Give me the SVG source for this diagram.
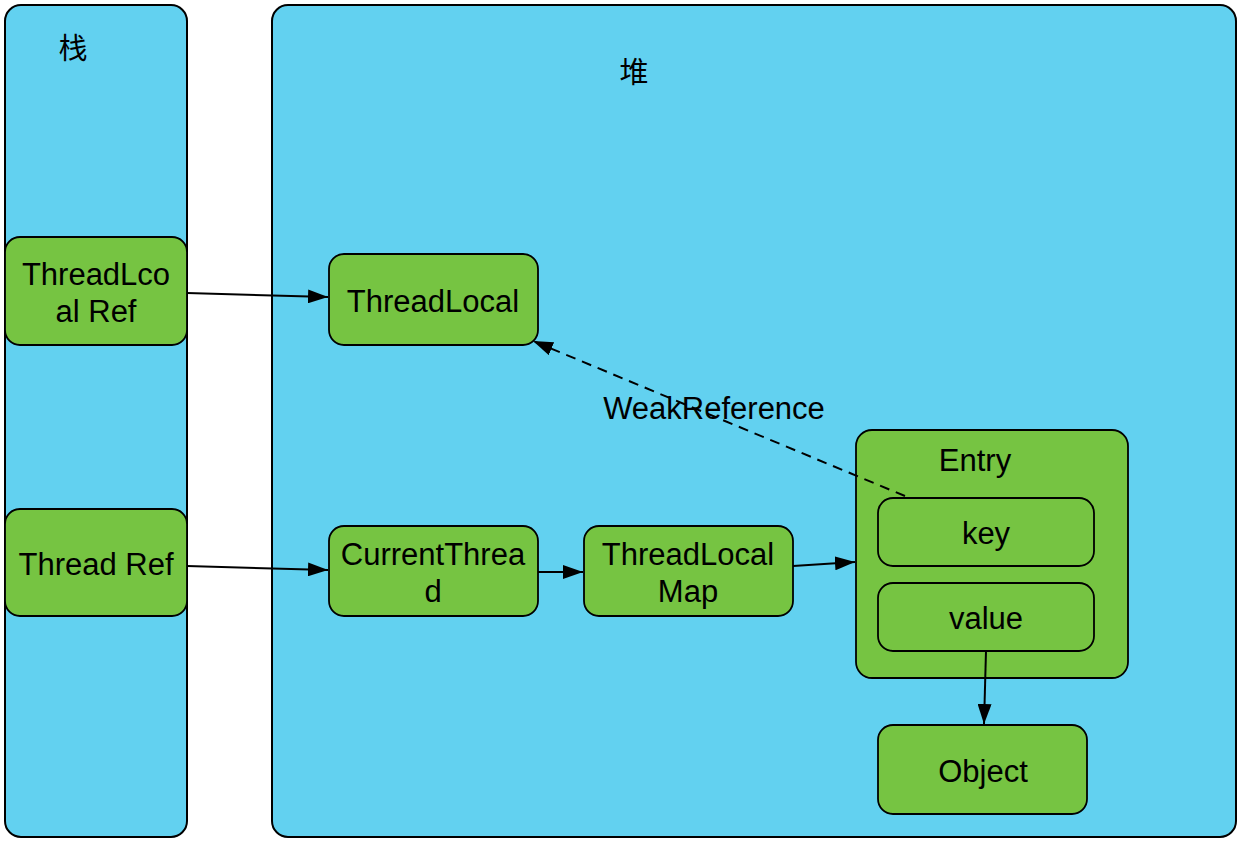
<svg xmlns="http://www.w3.org/2000/svg" width="1240" height="844" viewBox="0 0 1240 844">
<style>
.area{fill:#62D1F0;stroke:#000;stroke-width:2}
.node{fill:#76C442;stroke:#000;stroke-width:1.8}
.t{font-family:"Liberation Sans",Arial,sans-serif;font-size:31px;fill:#000;text-anchor:middle}
.cjk{font-family:"Noto Sans CJK SC",sans-serif;font-size:29px;fill:#000;text-anchor:middle}
.c{stroke:#000;stroke-width:2;fill:none}
</style>
<defs>
<marker id="arr" viewBox="0 0 20 14" refX="20" refY="7" markerWidth="20" markerHeight="14" markerUnits="userSpaceOnUse" orient="auto">
<path d="M0,0 L20,7 L0,14 Z" fill="#000"/>
</marker>
</defs>
<rect width="1240" height="844" fill="#fff"/>
<g id="stack">
<rect class="area" x="5" y="5" width="182" height="832" rx="16"/>
<text class="cjk" x="73" y="59">栈</text>
</g>
<g id="heap">
<rect class="area" x="272" y="5" width="964" height="832" rx="16"/>
<text class="cjk" x="634" y="83">堆</text>
</g>
<g id="threadlocal-ref">
<rect class="node" x="5" y="237" width="182" height="108" rx="15"/>
<text class="t" x="96" y="285">ThreadLco</text>
<text class="t" x="96" y="322">al Ref</text>
</g>
<g id="thread-ref">
<rect class="node" x="5" y="509" width="182" height="107" rx="15"/>
<text class="t" x="96" y="575">Thread Ref</text>
</g>
<g id="threadlocal">
<rect class="node" x="329" y="254" width="209" height="91" rx="15"/>
<text class="t" x="433" y="312">ThreadLocal</text>
</g>
<g id="currentthread">
<rect class="node" x="329" y="526" width="209" height="90" rx="15"/>
<text class="t" x="433" y="565">CurrentThrea</text>
<text class="t" x="433" y="602">d</text>
</g>
<g id="threadlocalmap">
<rect class="node" x="584" y="526" width="209" height="90" rx="15"/>
<text class="t" x="688" y="565">ThreadLocal</text>
<text class="t" x="688" y="602">Map</text>
</g>
<g id="entry">
<rect class="node" x="856" y="430" width="272" height="248" rx="16"/>
<text class="t" x="975" y="471">Entry</text>
</g>
<g id="key">
<rect class="node" x="878" y="498" width="216" height="68" rx="15"/>
<text class="t" x="986" y="544">key</text>
</g>
<g id="value">
<rect class="node" x="878" y="583" width="216" height="68" rx="15"/>
<text class="t" x="986" y="629">value</text>
</g>
<g id="object">
<rect class="node" x="878" y="725" width="209" height="89" rx="15"/>
<text class="t" x="983" y="782">Object</text>
</g>
<g id="connectors">
<line class="c" x1="187" y1="293" x2="328" y2="297" marker-end="url(#arr)"/>
<line class="c" x1="187" y1="566" x2="328" y2="570" marker-end="url(#arr)"/>
<line class="c" x1="538" y1="572" x2="583" y2="572" marker-end="url(#arr)"/>
<line class="c" x1="793" y1="566" x2="855" y2="562" marker-end="url(#arr)"/>
<line class="c" x1="986" y1="651" x2="984" y2="724" marker-end="url(#arr)"/>
<line class="c" x1="905" y1="496" x2="533" y2="341" stroke-dasharray="10,7" marker-end="url(#arr)"/>
<text class="t" x="714" y="419">WeakReference</text>
</g>
</svg>
